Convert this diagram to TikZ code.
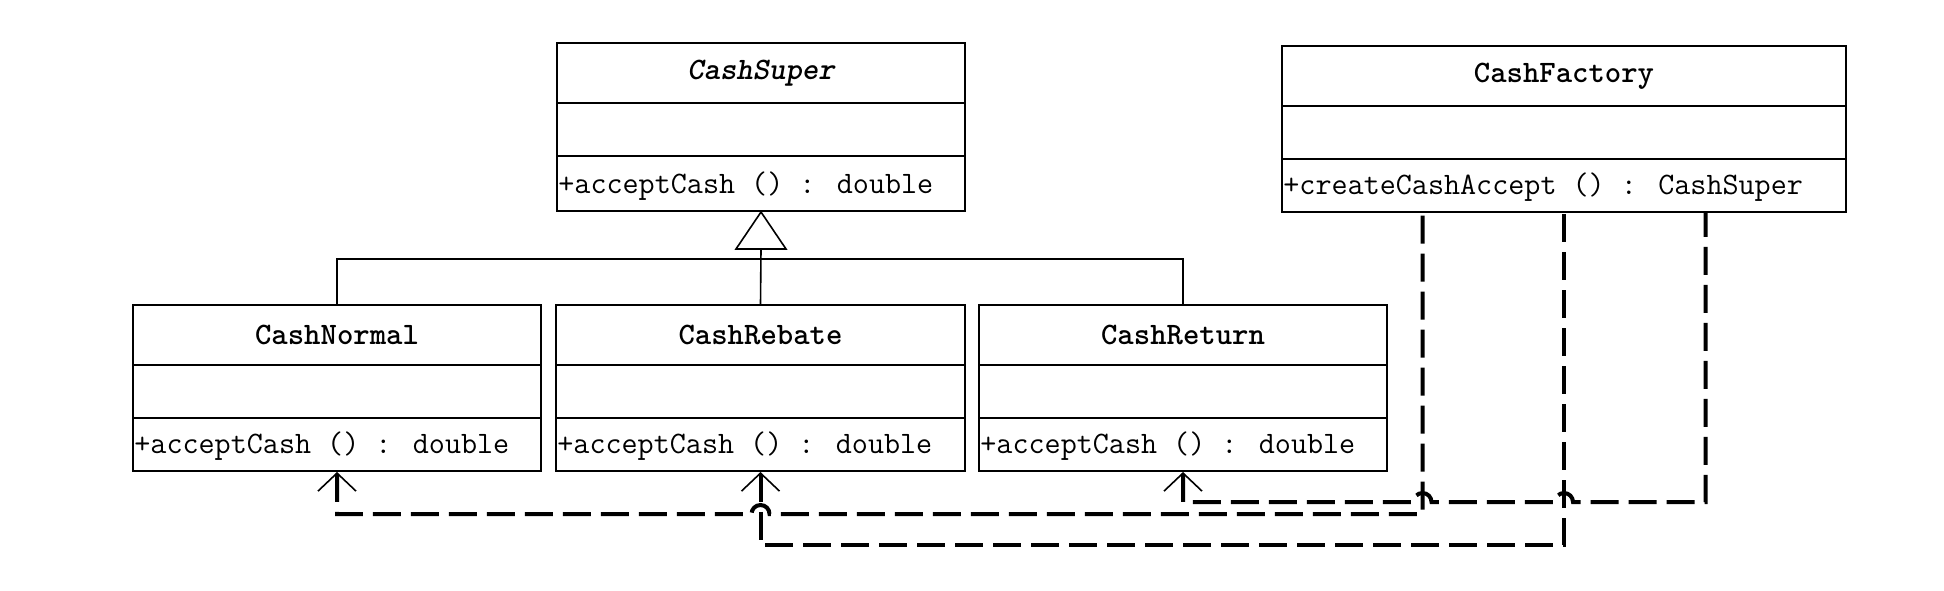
\documentclass[tikz,border=0pt]{standalone}
\usetikzlibrary{arrows.meta,calc}
\begin{document}
\begin{tikzpicture}[x=0.5pt,y=-0.5pt]
\tikzset{
  cls/.style={draw, line width=1pt, rectangle, inner sep=0pt, minimum height=83pt},
  clsname/.style={inner sep=0pt, font=\fontsize{15.6}{18}\selectfont\ttfamily\bfseries},
  meth/.style={anchor=west, inner sep=0pt, font=\fontsize{15.6}{18}\selectfont\ttfamily},
  divline/.style={line width=1pt},
  gen/.style={line width=0.8pt},
  dep/.style={line width=2pt, dash pattern=on 14pt off 5pt,
    arrows={Straight Barb[length=9pt,width=19pt,line width=0.8pt]-}},
}
\useasboundingbox (0,0) rectangle (1944,590);
% classes
\node[cls, minimum width=204pt, minimum height=84pt] (super) at (761,127) {};
\node[cls, minimum width=282pt] (factory) at (1564,129) {};
\node[cls, minimum width=204pt] (normal) at (337,388) {};
\node[cls, minimum width=204.5pt] (rebate) at (760.5,388) {};
\node[cls, minimum width=204pt] (return) at (1183,388) {};
% dividers
\foreach \b/\w in {super/408,factory/564,normal/408,rebate/409,return/408}{
  \draw[divline] ($(\b.north west)+(0,61)$) -- ++(\w,0);
  \draw[divline] ($(\b.north west)+(0,114)$) -- ++(\w,0);
}
% names
\node[clsname, font=\fontsize{15.6}{18}\selectfont\ttfamily\bfseries\itshape] (superName) at ($(super.north)+(0,31)$) {CashSuper};
\node[clsname] (factoryName) at ($(factory.north)+(0,31)$) {CashFactory};
\node[clsname] (normalName) at ($(normal.north)+(0,31)$) {CashNormal};
\node[clsname] (rebateName) at ($(rebate.north)+(0,31)$) {CashRebate};
\node[clsname] (returnName) at ($(return.north)+(0,31)$) {CashReturn};
% methods
\node[meth] (superMeth) at ($(super.south west)+(2,-26)$) {+acceptCash () : double};
\node[meth] (factoryMeth) at ($(factory.south west)+(2,-26)$) {+createCashAccept () : CashSuper};
\node[meth] (normalMeth) at ($(normal.south west)+(2,-26)$) {+acceptCash () : double};
\node[meth] (rebateMeth) at ($(rebate.south west)+(2,-26)$) {+acceptCash () : double};
\node[meth] (returnMeth) at ($(return.south west)+(2,-26)$) {+acceptCash () : double};
% generalization
\draw[gen, fill=white] (super.south) -- ++(-25,37) -- ++(50,0) -- cycle;
\coordinate (tribase) at ($(super.south)+(0,37)$);
\coordinate (bar) at ($(super.south)+(0,47)$);
\draw[gen] (tribase) -- (rebate.north);
\draw[gen] (normal.north) |- (bar) -| (return.north);
% dependencies
\coordinate (f1) at ($(factory.south west)!0.25!(factory.south east)$);
\coordinate (f2) at ($(factory.south west)!0.5!(factory.south east)$);
\coordinate (f3) at ($(factory.south west)!0.75!(factory.south east)$);
\coordinate (l1) at (0,514);
\coordinate (l2) at (0,545);
\coordinate (l3) at (0,502);
\draw[dep] (normal.south) -- (normal.south |- l1) -- ($(rebate.south |- l1)+(-9,0)$)
  arc[start angle=180,end angle=0,radius=4.5pt] -- (f1 |- l1) -- (f1);
\draw[dep] (rebate.south) -- (rebate.south |- l2) -- (f2 |- l2) -- (f2);
\draw[dep] (return.south) -- (return.south |- l3) -- ($(f1 |- l3)+(-9,0)$)
  arc[start angle=180,end angle=0,radius=4.5pt] -- ($(f2 |- l3)+(-9,0)$)
  arc[start angle=180,end angle=0,radius=4.5pt] -- (f3 |- l3) -- (f3);
\end{tikzpicture}
\end{document}
